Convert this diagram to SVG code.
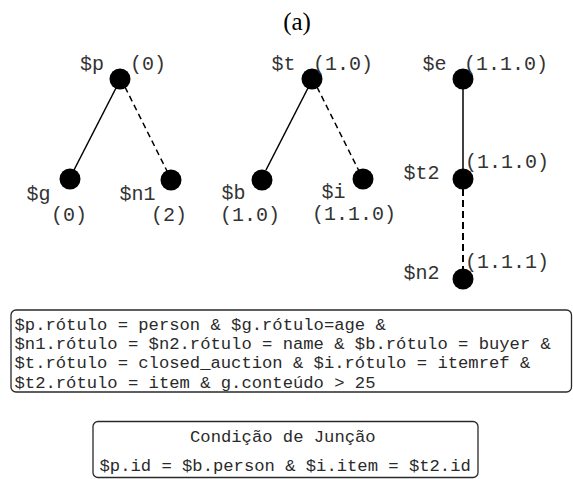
<svg xmlns="http://www.w3.org/2000/svg" width="573" height="479" viewBox="0 0 573 479">
  <style>
    .node { fill: #000; }
    .lbl { font-family: "Liberation Mono", "DejaVu Sans Mono", monospace; font-size: 20px; fill: #333; }
    .cond { font-family: "Liberation Mono", "DejaVu Sans Mono", monospace; font-size: 17.2px; fill: #2a2a2a; }
    .title { font-family: "Liberation Serif", "DejaVu Serif", serif; font-size: 25px; fill: #000; }
    .edge { stroke: #000; stroke-width: 1.5; fill: none; }
    .dash { stroke-dasharray: 6 4; }
    .dash2 { stroke-width: 2; stroke-dasharray: 7 4; }
    .box { fill: none; stroke: #2a2a2a; stroke-width: 1.3; }
  </style>

  <text class="title" x="297" y="30" text-anchor="middle">(a)</text>

  <!-- tree edges -->
  <g id="connectors">
    <line class="edge" x1="116" y1="88" x2="74" y2="170"/>
    <line class="edge dash" x1="125" y1="87" x2="167" y2="171"/>
    <line class="edge" x1="308" y1="88" x2="266" y2="170"/>
    <line class="edge dash" x1="317" y1="87" x2="359" y2="171"/>
    <line class="edge" x1="463" y1="89" x2="463" y2="169"/>
    <line class="edge dash2" x1="463" y1="189" x2="463" y2="269"/>
  </g>

  <!-- first tree -->
  <g id="node-p">
    <circle class="node" cx="120" cy="79" r="10.5"/>
    <text class="lbl" x="80" y="70">$p</text>
    <text class="lbl" x="130" y="70">(0)</text>
  </g>
  <g id="node-g">
    <circle class="node" cx="70" cy="179" r="10.5"/>
    <text class="lbl" x="26.5" y="200">$g</text>
    <text class="lbl" x="51" y="221">(0)</text>
  </g>
  <g id="node-n1">
    <circle class="node" cx="171" cy="180" r="10.5"/>
    <text class="lbl" x="119.5" y="200">$n1</text>
    <text class="lbl" x="151" y="221">(2)</text>
  </g>

  <!-- second tree -->
  <g id="node-t">
    <circle class="node" cx="312" cy="79" r="10.5"/>
    <text class="lbl" x="271.5" y="70">$t</text>
    <text class="lbl" x="313" y="70">(1.0)</text>
  </g>
  <g id="node-b">
    <circle class="node" cx="262" cy="180" r="10.5"/>
    <text class="lbl" x="221.5" y="199">$b</text>
    <text class="lbl" x="220" y="221">(1.0)</text>
  </g>
  <g id="node-i">
    <circle class="node" cx="363" cy="179" r="10.5"/>
    <text class="lbl" x="321.5" y="198">$i</text>
    <text class="lbl" x="312" y="220">(1.1.0)</text>
  </g>

  <!-- third tree -->
  <g id="node-e">
    <circle class="node" cx="463" cy="79" r="10.5"/>
    <text class="lbl" x="422.5" y="70">$e</text>
    <text class="lbl" x="464" y="70">(1.1.0)</text>
  </g>
  <g id="node-t2">
    <circle class="node" cx="463" cy="179" r="10.5"/>
    <text class="lbl" x="403.5" y="179">$t2</text>
    <text class="lbl" x="465" y="168">(1.1.0)</text>
  </g>
  <g id="node-n2">
    <circle class="node" cx="463" cy="279" r="10.5"/>
    <text class="lbl" x="403.5" y="279">$n2</text>
    <text class="lbl" x="465" y="268">(1.1.1)</text>
  </g>

  <!-- selection predicates -->
  <g id="predicates">
    <rect class="box" x="11" y="310" width="560.5" height="82" rx="5"/>
    <text class="cond" x="14.5" y="330">$p.rótulo = person &amp; $g.rótulo=age &amp;</text>
    <text class="cond" x="14.5" y="349.2">$n1.rótulo = $n2.rótulo = name &amp; $b.rótulo = buyer &amp;</text>
    <text class="cond" x="14.5" y="368.4">$t.rótulo = closed_auction &amp; $i.rótulo = itemref &amp;</text>
    <text class="cond" x="14.5" y="387.6">$t2.rótulo = item &amp; g.conteúdo &gt; 25</text>
  </g>

  <!-- join condition -->
  <g id="join">
    <rect class="box" x="93" y="421.5" width="385" height="56" rx="5"/>
    <text class="cond" x="190" y="442">Condição de Junção</text>
    <text class="cond" x="99.5" y="471">$p.id = $b.person &amp; $i.item = $t2.id</text>
  </g>
</svg>
